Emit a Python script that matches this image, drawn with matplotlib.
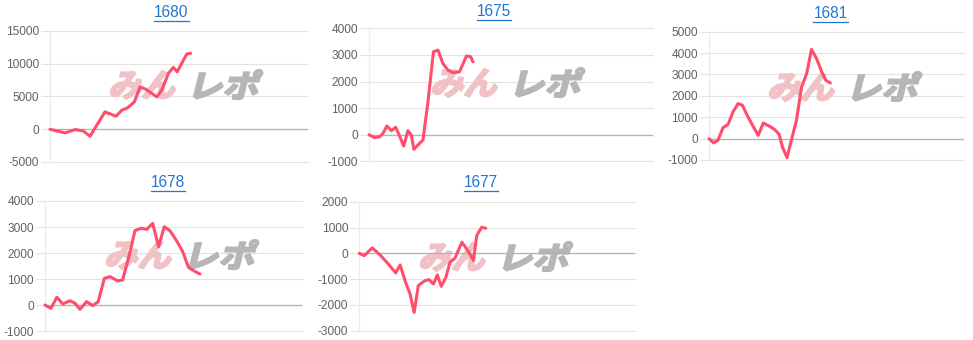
import matplotlib
matplotlib.use("Agg")
import matplotlib.pyplot as plt
from matplotlib.textpath import TextPath
from matplotlib.patches import PathPatch
from matplotlib.font_manager import FontProperties
from matplotlib.transforms import Affine2D, IdentityTransform
from matplotlib.lines import Line2D

plt.rcParams['font.family'] = ['Liberation Sans', 'DejaVu Sans']

# ---- data (x = position along the day, 0-100; y = difference in coins) ----
titles = ["1680", "1675", "1681", "1678", "1677"]

x_1680 = [0, 5.8, 9.7, 12.9, 15.5, 21.3, 25.6, 27.8, 30.0, 32.7, 34.9, 37.2, 41.4,
          43.3, 45.9, 47.8, 49.3, 53.0, 54.5]
y_1680 = [0, -560, -50, -260, -1070, 2650, 1990, 2900, 3260, 4180, 6470, 6100, 4940,
          5970, 8520, 9440, 8770, 11480, 11580]

x_1675 = [0, 2.0, 3.8, 4.9, 6.3, 7.9, 9.4, 10.6, 12.2, 13.7, 14.9, 15.8, 17.2, 19.0,
          20.7, 22.7, 24.3, 26.0, 27.8, 29.6, 31.9, 34.3, 35.8, 36.6]
y_1675 = [0, -110, -75, 50, 330, 150, 280, -10, -425, 150, -10, -550, -390, -200,
          1180, 3120, 3180, 2680, 2430, 2330, 2370, 2960, 2930, 2740]

x_1681 = [0, 1.8, 3.5, 5.5, 7.5, 9.4, 11.4, 13.1, 15.3, 17.3, 19.3, 21.3, 23.8, 25.8,
          27.5, 28.8, 30.6, 32.3, 34.3, 36.3, 38.3, 40.2, 42.2, 44.2, 45.8, 47.6]
y_1681 = [0, -200, -80, 510, 670, 1250, 1640, 1560, 1010, 575, 155, 730, 575, 420,
          200, -390, -890, -80, 860, 2410, 3040, 4170, 3740, 3120, 2730, 2600]

x_1678 = [0, 2.3, 4.6, 6.9, 9.7, 11.7, 13.6, 16.2, 18.6, 20.7, 23.1, 25.3, 28.3, 30.2,
          32.8, 35.0, 37.4, 39.6, 41.9, 44.2, 46.4, 48.6, 51.2, 53.6, 55.8, 58.0, 60.3]
y_1678 = [0, -130, 300, 40, 165, 65, -165, 130, -25, 130, 1025, 1090, 925, 960,
          1920, 2860, 2950, 2910, 3140, 2240, 3010, 2860, 2470, 2050, 1450, 1310, 1190]

x_1677 = [0, 1.8, 4.7, 7.5, 10.5, 13.2, 14.8, 16.8, 18.4, 19.9, 21.4, 23.8, 25.3,
          26.9, 28.3, 29.7, 31.4, 32.9, 34.7, 37.2, 39.6, 41.4, 42.6, 44.4, 45.9]
y_1677 = [0, -90, 210, -60, -410, -760, -450, -1125, -1575, -2290, -1250, -1060, -1020,
          -1190, -840, -1280, -930, -350, -190, 430, 65, -280, 690, 1010, 970]

yticks_1680 = [-5000, 0, 5000, 10000, 15000]
yticks_1675 = [-1000, 0, 1000, 2000, 3000, 4000]
yticks_1681 = [-1000, 0, 1000, 2000, 3000, 4000, 5000]
yticks_1678 = [-1000, 0, 1000, 2000, 3000, 4000]
yticks_1677 = [-3000, -2000, -1000, 0, 1000, 2000]

series = [(x_1680, y_1680, yticks_1680), (x_1675, y_1675, yticks_1675),
          (x_1681, y_1681, yticks_1681), (x_1678, y_1678, yticks_1678),
          (x_1677, y_1677, yticks_1677)]

# ---- layout (pixels) ----
W, H = 973, 340
plot_boxes = [(50, 31, 308, 162), (369, 28.3, 653, 161.3), (709, 31.7, 964, 160),
              (45, 201, 302, 331), (359.3, 201.7, 635, 330.7)]
title_pos = [(171.5, 12.5), (494, 11), (830.6, 13.5), (168, 182.5), (480.6, 182.5)]
logo_pos = [(108, 72), (430, 70), (767, 74), (104, 242), (418, 244)]

LINE = '#ff4d6b'
GRID = '#e3e3e3'
BASE = '#b3b3b3'
LABEL = '#626262'
LINK = '#2176d2'

fig = plt.figure(figsize=(W / 100, H / 100), dpi=100)
fig.patch.set_facecolor('white')

jp = FontProperties(family='Noto Sans CJK JP', weight='bold')


def logo_part(ax, text, left, top, w, h, color):
    tp = TextPath((0, 0), text, size=10, prop=jp)
    ext = tp.get_extents()
    sx = w / ext.width
    sy = h / ext.height
    tr = (Affine2D().translate(-ext.x0, -ext.y0).scale(sx * 0.85, sy)
          .skew_deg(14, 0).translate(left + 1, H - top - h + 1))
    path = tr.transform_path(tp)
    patch = PathPatch(path, facecolor=color, edgecolor=color, linewidth=1.6,
                      joinstyle='round', transform=IdentityTransform(), zorder=1,
                      clip_on=False)
    ax.add_artist(patch)


axes = []
for i, ((xs, ys, yt), (x0, y0, x1, y1)) in enumerate(zip(series, plot_boxes)):
    ax = fig.add_axes([x0 / W, 1 - y1 / H, (x1 - x0) / W, (y1 - y0) / H])
    ax.set_facecolor('none')
    ax.set_xlim(0, 100)
    ax.set_ylim(yt[0], yt[-1])
    ax.set_yticks(yt)
    ax.set_yticklabels([str(v) for v in yt])
    ax.set_xticks([])
    for s in ['top', 'right', 'bottom']:
        ax.spines[s].set_visible(False)
    ax.spines['left'].set_color('#ececec')
    ax.spines['left'].set_linewidth(1)
    ax.tick_params(axis='y', length=6.5, width=0.8, color=GRID, pad=1.5,
                   labelsize=8.6, labelcolor=LABEL)
    ax.yaxis.grid(True, color=GRID, linewidth=0.8)
    for gl in ax.get_ygridlines():
        gl.set_clip_on(False)
    ax.set_axisbelow(True)
    ax.axhline(0, color=BASE, linewidth=0.9, zorder=1.5)
    lx, ly = logo_pos[i]
    logo_part(ax, "みん", lx, ly, 75, 28, '#f0c2c5')
    logo_part(ax, "レポ", lx + 84, ly - 1, 74, 29, '#b6b6b6')
    ax.plot(xs, ys, color=LINE, linewidth=2.2, solid_joinstyle='round',
            solid_capstyle='round', zorder=3, clip_on=False)
    axes.append(ax)

fig.canvas.draw()
renderer = fig.canvas.get_renderer()
for (tx, ty), t in zip(title_pos, titles):
    txt = fig.text(tx / W, 1 - ty / H, t, ha='center', va='center', fontsize=11.2,
                   color=LINK)
    bb = txt.get_window_extent(renderer)
    yline = bb.y0 - 1
    fig.add_artist(Line2D([bb.x0, bb.x1], [yline, yline], color=LINK, linewidth=0.9,
                          transform=IdentityTransform()))

fig.savefig('out.png', dpi=100, facecolor='white')
